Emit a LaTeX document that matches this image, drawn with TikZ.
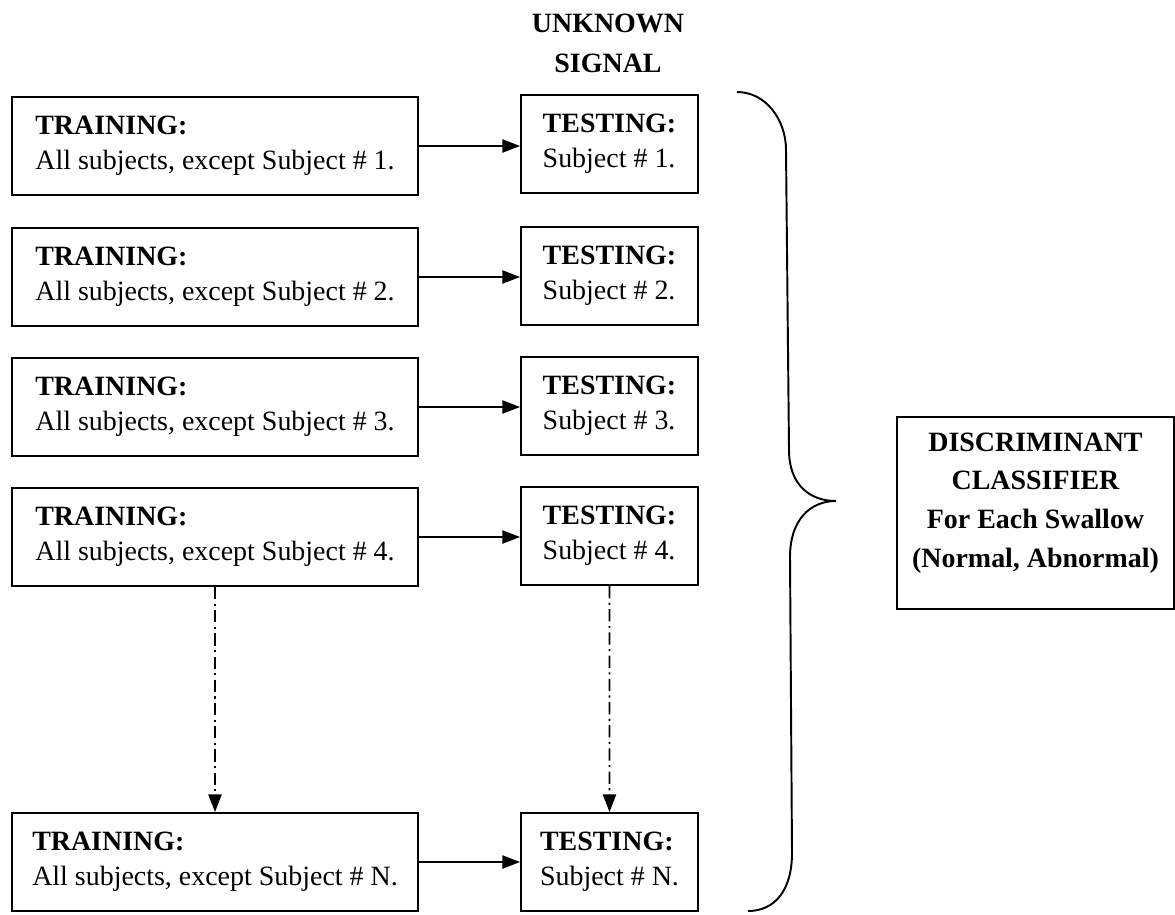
\documentclass[tikz,border=0pt]{standalone}
\usepackage{fontspec}
\setmainfont{Liberation Serif}
\usetikzlibrary{arrows.meta}

\begin{document}
\begin{tikzpicture}[scale=0.2,
  trainbox/.style={draw=black, line width=1.1pt, minimum width=8.12cm, minimum height=1.96cm, align=left},
  testbox/.style={draw=black, line width=1.1pt, minimum width=3.54cm, minimum height=1.96cm, align=left},
  solidarrow/.style={draw=black, line width=0.9pt, -{Triangle[length=10pt,width=7.5pt]}},
  dotarrow/.style={solidarrow, dash pattern=on 7pt off 2.5pt on 1.2pt off 2.5pt}]
\tikzstyle{every node}+=[inner sep=0pt, font=\fontsize{15.9}{19.9}\selectfont]
\useasboundingbox (0,0) rectangle (117.5,-91.4);
\node [align=center, font=\bfseries\fontsize{15.9}{22.8}\selectfont] (unknown) at (60.8,-4.3) {UNKNOWN\\SIGNAL};
% training side
\node [trainbox] (train1) at (21.5,-14.6) {\textbf{TRAINING:}\\All subjects, except Subject \# 1.};
\node [trainbox] (train2) at (21.5,-27.7) {\textbf{TRAINING:}\\All subjects, except Subject \# 2.};
\node [trainbox] (train3) at (21.5,-40.7) {\textbf{TRAINING:}\\All subjects, except Subject \# 3.};
\node [trainbox] (train4) at (21.5,-53.7) {\textbf{TRAINING:}\\All subjects, except Subject \# 4.};
\node [trainbox] (trainN) at (21.5,-86.2) {\textbf{TRAINING:}\\All subjects, except Subject \# N.};
% testing side
\node [testbox] (test1) at (60.95,-14.4) {\textbf{TESTING:}\\Subject \# 1.};
\node [testbox] (test2) at (60.95,-27.6) {\textbf{TESTING:}\\Subject \# 2.};
\node [testbox] (test3) at (60.95,-40.6) {\textbf{TESTING:}\\Subject \# 3.};
\node [testbox] (test4) at (60.95,-53.6) {\textbf{TESTING:}\\Subject \# 4.};
\node [testbox] (testN) at (60.95,-86.2) {\textbf{TESTING:}\\Subject \# N.};
% classifier
\node [draw=black, line width=1.1pt, minimum width=5.54cm, minimum height=3.84cm, align=center,
  font=\bfseries\fontsize{15.9}{22}\selectfont] (classifier) at (103.55,-51.3)
  {DISCRIMINANT\\CLASSIFIER\\For Each Swallow\\(Normal, Abnormal)\\[-7pt]\mbox{}};
% arrows
\draw [solidarrow] (train1) -- (test1.west |- train1.east);
\draw [solidarrow] (train2) -- (test2.west |- train2.east);
\draw [solidarrow] (train3) -- (test3.west |- train3.east);
\draw [solidarrow] (train4) -- (test4.west |- train4.east);
\draw [solidarrow] (trainN) -- (testN.west |- trainN.east);
\draw [dotarrow] (train4) -- (trainN);
\draw [dotarrow] (test4) -- (testN);
% brace
\draw [black, line width=1.1pt] (73.7,-9.2) .. controls (76.6,-9.2) and (78.6,-12) .. (78.6,-15)
  -- (78.9,-45) .. controls (78.9,-48.5) and (81,-50.1) .. (83.6,-50.1)
  .. controls (81,-50.1) and (79,-52) .. (79,-55.7)
  -- (79.2,-85.3) .. controls (79.2,-89) and (77.5,-91.1) .. (74.8,-91.1);
\end{tikzpicture}
\end{document}
